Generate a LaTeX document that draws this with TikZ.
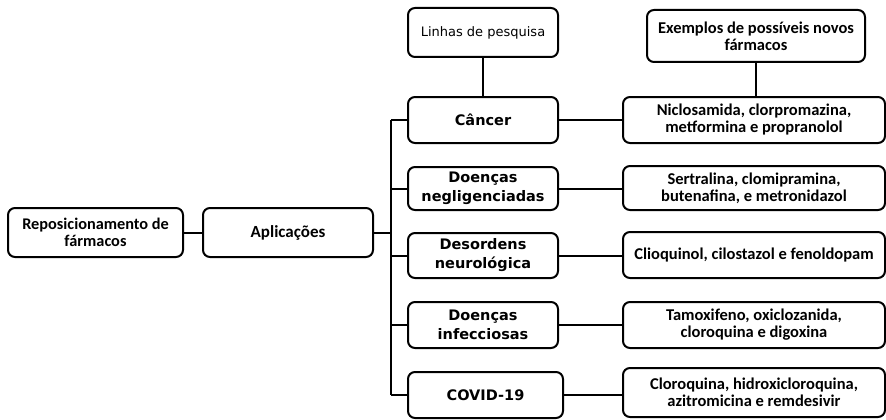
\documentclass[tikz,border=0pt]{standalone}
\usepackage{fontspec}
\setmainfont{Carlito}
\newfontfamily\midfont{DejaVu Sans}
\begin{document}
\begin{tikzpicture}[x=1pt,y=-1pt,
  box/.style={draw=black,line width=2pt,rounded corners=7pt,fill=white,
    inner sep=0pt,align=center},
  drug/.style={box,font=\bfseries\fontsize{16.5}{17}\selectfont},
  area/.style={box,font=\midfont\bfseries\fontsize{14.5}{19}\selectfont},
  link/.style={line width=2pt}]
\useasboundingbox (0,0) rectangle (886,420);

% left column
\node[drug,minimum width=175pt,minimum height=49pt,font=\bfseries\fontsize{16.3}{17}\selectfont] (rep) at (95.5,232.5) {Reposicionamento de\\fármacos};
\node[drug,minimum width=170pt,minimum height=49pt,font=\bfseries\fontsize{17}{17}\selectfont] (apl) at (288,232.5) {Aplicações};

% research lines
\node[box,minimum width=150pt,minimum height=49pt,font=\midfont\fontsize{13}{15}\selectfont] (lin) at (483,32.5) {Linhas de pesquisa};
\node[area,minimum width=150pt,minimum height=46pt] (can) at (483,120) {Câncer};
\node[area,minimum width=150pt,minimum height=43pt] (neg) at (483,188.5) {Doenças\\negligenciadas};
\node[area,minimum width=150pt,minimum height=45pt] (des) at (483,255.5) {Desordens\\neurológica};
\node[area,minimum width=150pt,minimum height=46pt] (inf) at (483,325) {Doenças\\infecciosas};
\node[area,minimum width=155pt,minimum height=46pt] (cov) at (485.5,395) {COVID-19};

% candidate drugs
\node[drug,minimum width=218pt,minimum height=52pt] (exe) at (756,36) {Exemplos de possíveis novos\\fármacos};
\node[drug,minimum width=262pt,minimum height=46pt] (nic) at (754,120) {Niclosamida, clorpromazina,\\metformina e propranolol};
\node[drug,minimum width=262pt,minimum height=44pt] (ser) at (754,188) {Sertralina, clomipramina,\\butenafina, e metronidazol};
\node[drug,minimum width=262pt,minimum height=46pt] (cli) at (754,255) {Clioquinol, cilostazol e fenoldopam};
\node[drug,minimum width=262pt,minimum height=46pt] (tam) at (754,325) {Tamoxifeno, oxiclozanida,\\cloroquina e digoxina};
\node[drug,minimum width=262pt,minimum height=49pt] (clo) at (754,392.5) {Cloroquina, hidroxicloroquina,\\azitromicina e remdesivir};

% trunk of the tree
\coordinate (tj) at (391,232.5);
\coordinate (tt) at (391,120);
\coordinate (tb) at (391,395);

\draw[link] (rep.east) -- (apl.west);
\draw[link] (apl.east) -- (tj);
\draw[link] (tt) -- (tb);
\foreach \n in {can,neg,des,inf,cov}
  \draw[link] (tt |- \n.west) -- (\n.west);

\draw[link] (lin.south) -- (can.north);
\draw[link] (exe.south) -- (exe.south |- nic.north);

\foreach \a/\b in {can/nic,neg/ser,des/cli,inf/tam,cov/clo}
  \draw[link] (\a.east) -- (\a.east -| \b.west);
\end{tikzpicture}
\end{document}
